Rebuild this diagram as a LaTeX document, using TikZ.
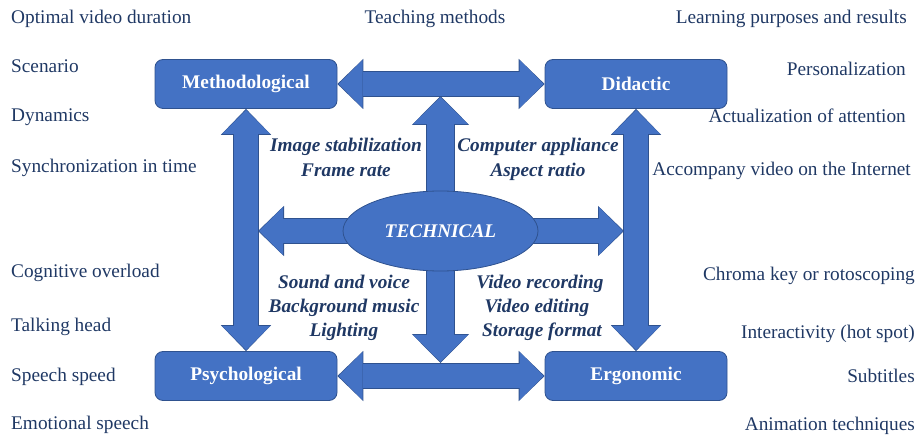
\documentclass[tikz,border=0pt]{standalone}
\usepackage{fontspec}
\setmainfont{Liberation Serif}
\usetikzlibrary{arrows.meta,shapes.geometric}
\definecolor{ablue}{HTML}{4472C4}
\definecolor{bdark}{HTML}{2F528F}
\definecolor{tnavy}{HTML}{1F3864}
\pgfdeclarelayer{bg}
\pgfsetlayers{bg,main}
\tikzset{
  sidetip/.tip={Triangle[width=48pt,length=24pt,line width=0pt]},
  sidetipo/.tip={Triangle[width=50.3pt,length=26pt,line width=0pt]},
  midtip/.tip={Triangle[width=55pt,length=27pt,line width=0pt]},
  midtipo/.tip={Triangle[width=57.3pt,length=29pt,line width=0pt]},
  blk/.style={draw=ablue,line width=24pt,arrows=sidetip-sidetip,
    shorten <=1.1pt,shorten >=1.1pt,
    preaction={draw=bdark,line width=25.6pt,arrows=sidetipo-sidetipo,
      shorten <=0pt,shorten >=0pt}},
  blkone/.style={draw=ablue,line width=24pt,arrows=-sidetip,shorten >=1.1pt,
    preaction={draw=bdark,line width=25.6pt,arrows=-sidetipo,shorten >=0pt}},
  blkmid/.style={draw=ablue,line width=27pt,arrows=-midtip,shorten >=1.1pt,
    preaction={draw=bdark,line width=28.6pt,arrows=-midtipo,shorten >=0pt}},
  box/.style={draw=bdark,fill=ablue,line width=0.8pt,rounded corners=8pt,
    minimum width=182pt,minimum height=49pt,inner sep=0pt,text=white,
    font=\fontsize{19.3}{24}\selectfont\bfseries},
  lbl/.style={text=tnavy,inner sep=0pt,font=\fontsize{19.3}{24}\selectfont},
  itl/.style={text=tnavy,inner sep=0pt,anchor=base,
    font=\fontsize{19.3}{24}\selectfont\bfseries\itshape},
}
\begin{document}
\begin{tikzpicture}[x=1pt,y=-1pt]
\useasboundingbox (0,0) rectangle (917,435);
% category boxes
\node[box] (meth) at (246,84) {Methodological};
\node[box] (did) at (636,84) {Didactic};
\node[box] (psy) at (246,376) {Psychological};
\node[box] (erg) at (636,376) {Ergonomic};
\node[ellipse,draw=bdark,fill=ablue,line width=0.8pt,minimum width=195pt,
  minimum height=80pt,inner sep=0pt,text=white,
  font=\fontsize{19.3}{24}\selectfont\bfseries\itshape] (tech) at (440.5,231) {TECHNICAL};
% free ends of the central arrows
\coordinate (lt) at ([xshift=12pt]meth.south |- tech.center);
\coordinate (rt) at ([xshift=-12pt]did.south |- tech.center);
\coordinate (ut) at ([yshift=-12pt]tech.center |- meth.east);
\coordinate (dt) at ([yshift=13pt]tech.center |- psy.east);
\begin{pgfonlayer}{bg}
\draw[blk] (meth.east) -- (did.west);
\draw[blk] (psy.east) -- (erg.west);
\draw[blk] (meth.south) -- (psy.north);
\draw[blk] (did.south) -- (erg.north);
\draw[blkone] (tech.center) -- (lt);
\draw[blkone] (tech.center) -- (rt);
\draw[blkmid] (tech.center) -- (ut);
\draw[blkmid] (tech.center) -- (dt);
\end{pgfonlayer}
% left column
\node[lbl,anchor=base west] (l1) at (11,24) {Optimal video duration};
\node[lbl,anchor=base west] (l2) at (11,73) {Scenario};
\node[lbl,anchor=base west] (l3) at (11,122) {Dynamics};
\node[lbl,anchor=base west] (l4) at (11,173) {Synchronization in time};
\node[lbl,anchor=base west] (l5) at (11,278) {Cognitive overload};
\node[lbl,anchor=base west] (l6) at (11,331) {Talking head};
\node[lbl,anchor=base west] (l7) at (11,381) {Speech speed};
\node[lbl,anchor=base west] (l8) at (11,429) {Emotional speech};
% top middle
\node[lbl,anchor=base] (tm) at (435,24) {Teaching methods};
% right column
\node[lbl,anchor=base east] (r1) at (907,24) {Learning purposes and results};
\node[lbl,anchor=base east] (r2) at (906,76) {Personalization};
\node[lbl,anchor=base east] (r3) at (906,123) {Actualization of attention};
\node[lbl,anchor=base east] (r4) at (911,176) {Accompany video on the Internet};
\node[lbl,anchor=base east] (r5) at (915,280) {Chroma key or rotoscoping};
\node[lbl,anchor=base east] (r6) at (915,338) {Interactivity (hot spot)};
\node[lbl,anchor=base east] (r7) at (915,382) {Subtitles};
\node[lbl,anchor=base east] (r8) at (915,430) {Animation techniques};
% technical labels
\node[itl] (a1) at (346,152) {Image stabilization};
\node[itl] (a2) at (346,177) {Frame rate};
\node[itl] (b1) at (538,152) {Computer appliance};
\node[itl] (b2) at (538,177) {Aspect ratio};
\node[itl] (c1) at (344,288) {Sound and voice};
\node[itl] (c2) at (344,312) {Background music};
\node[itl] (c3) at (344,336) {Lighting};
\node[itl] (d1) at (540,288) {Video recording};
\node[itl] (d2) at (537,312) {Video editing};
\node[itl] (d3) at (542,336) {Storage format};
\end{tikzpicture}
\end{document}
